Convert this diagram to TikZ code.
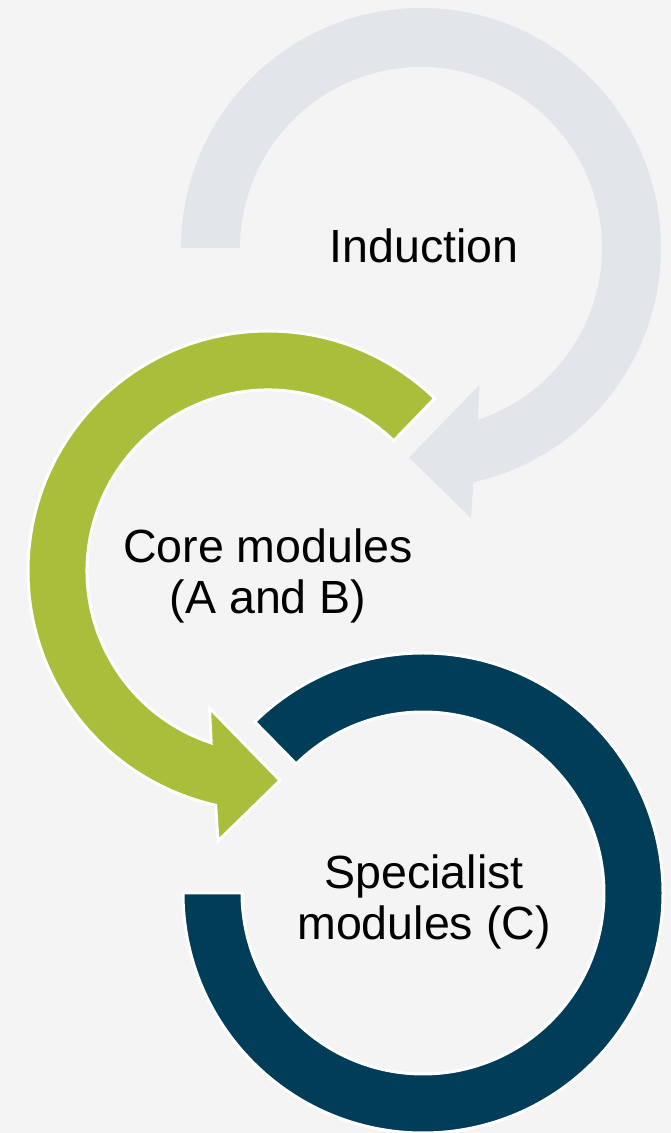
\documentclass[tikz,border=0pt]{standalone}
\usepackage{fontspec}
\setmainfont{Liberation Sans}
\definecolor{bgcol}{HTML}{F4F4F4}
\definecolor{indgray}{HTML}{E2E5EA}
\definecolor{coregreen}{HTML}{AABE3B}
\definecolor{specblue}{HTML}{003D58}

\begin{document}
\begin{tikzpicture}[x=0.02cm, y=0.02cm,
    ring/.style={draw=white, line width=0.06cm, line join=miter},
    steptext/.style={align=center, font=\fontsize{26.5}{29}\selectfont, inner sep=0pt}]
    \useasboundingbox (0,0) rectangle (671,1133);
    \fill[bgcol] (0,0) rectangle (671,1133);

    \coordinate (IndC) at (421,885);
    \coordinate (CoreC) at (268,562);
    \coordinate (SpecC) at (423,240);

    \begin{scope}[shift={(IndC)}]
        \path[ring, draw=none, fill=indgray] (180:240) arc[start angle=180, end angle=-77.4, radius=240]
            -- (50,-270) -- (-12,-209.5) -- (58.5,-137)
            -- (-71.7:181) arc[start angle=-71.7, end angle=180, radius=181] -- cycle;
    \end{scope}
    \begin{scope}[shift={(CoreC)}]
        \path[ring, fill=coregreen] (46:240) arc[start angle=46, end angle=257.4, radius=240]
            -- (-50,-270) -- (12,-209.5) -- (-58.5,-137)
            -- (251.7:181) arc[start angle=251.7, end angle=46, radius=181] -- cycle;
    \end{scope}
    \begin{scope}[shift={(SpecC)}]
        \path[ring, fill=specblue] (180:240) arc[start angle=180, end angle=494.5, radius=240]
            -- (134.5:181) arc[start angle=134.5, end angle=-180, radius=181] -- cycle;
    \end{scope}

    \node[steptext] (Ind) at (424,887) {Induction};
    \node[steptext] (Core) at (268,557) {Core modules\\(A and B)};
    \node[steptext] (Spec) at (424,231) {Specialist\\modules (C)};
\end{tikzpicture}
\end{document}
